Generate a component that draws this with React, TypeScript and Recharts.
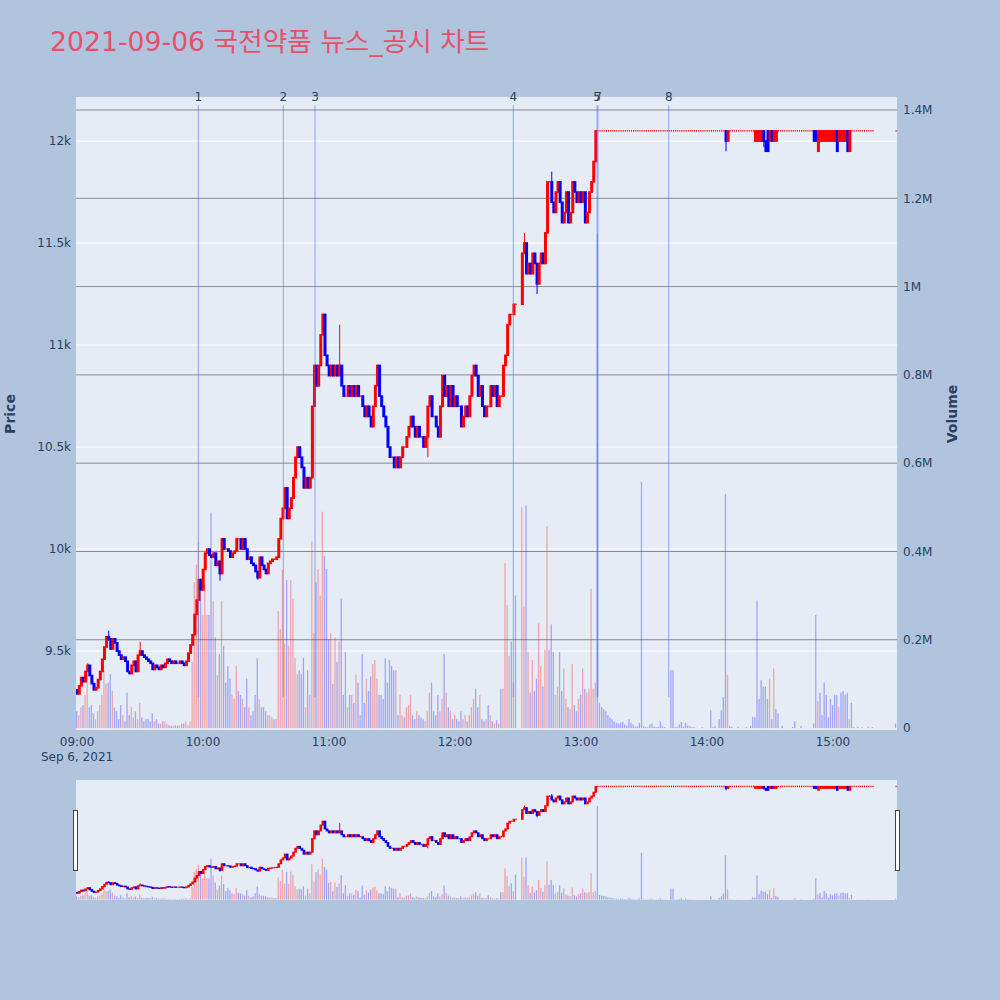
import React from "react";
import { ComposedChart, Bar, XAxis, YAxis, CartesianGrid, ReferenceLine } from "recharts";

const TITLE = "2021-09-06 국전약품 뉴스_공시 차트";
const DATE_LABEL = "Sep 6, 2021";
const HOUR_TICKS = ["09:00", "10:00", "11:00", "12:00", "13:00", "14:00", "15:00"];
const PRICE_TICKS = [9500, 10000, 10500, 11000, 11500, 12000];
const VOLUME_TICKS = [0, 200000, 400000, 600000, 800000, 1000000, 1200000, 1400000];

// minute closes, 09:00 .. 15:30 (null = no trade)
const close0900 = [
  9290, 9330, 9370, 9350, 9400, 9430, 9380, 9340, 9310, 9320,
  9360, 9400, 9460, 9520, 9570, 9560, 9510, 9560, 9540, 9500,
  9480, 9460, 9470, 9450, 9400, 9390, 9430, 9450, 9400, 9480,
  9500, 9480, 9470, 9460, 9450, 9440, 9410, 9430, 9420, 9410,
  9430, 9420, 9440, 9460, 9450, 9440, 9450, 9440, 9440, 9450,
  9440, 9430, 9450, 9490, 9530, 9580, 9680, 9750, 9850, 9800,
];
const close1000 = [
  9900, 9980, 10000, 9970, 9960, 9980, 9920, 9940, 9880, 10050,
  10000, 10000, 9990, 9960, 9980, 9990, 10050, 10050, 10000, 10050,
  10000, 9950, 9960, 9930, 9920, 9890, 9860, 9960, 9920, 9900,
  9880, 9930, 9940, 9950, 9950, 9960, 10050, 10150, 10200, 10300,
  10150, 10200, 10250, 10350, 10450, 10500, 10450, 10400, 10300, 10350,
  10300, 10350, 10700, 10900, 10800, 10900, 11050, 11150, 10950, 10900,
];
const close1100 = [
  10850, 10900, 10850, 10900, 10850, 10900, 10800, 10750, 10750, 10800,
  10750, 10800, 10750, 10800, 10750, 10750, 10700, 10650, 10700, 10650,
  10600, 10700, 10800, 10900, 10750, 10700, 10650, 10600, 10500, 10450,
  10450, 10400, 10450, 10400, 10450, 10500, 10500, 10550, 10600, 10650,
  10600, 10550, 10600, 10550, 10550, 10500, 10550, 10700, 10750, 10650,
  10650, 10600, 10550, 10700, 10850, 10750, 10800, 10700, 10800, 10700,
];
const close1200 = [
  10750, 10700, 10700, 10600, 10650, 10700, 10650, 10750, 10850, 10900,
  10850, 10750, 10800, 10700, 10650, 10700, 10700, 10800, 10750, 10800,
  10700, 10750, 10750, 10900, 10950, 11100, 11150, 11150, 11200, 11200,
  null, null, 11450, 11500, 11350, 11400, 11350, 11450, 11400, 11300,
  11400, 11450, 11400, 11550, 11800, 11800, 11700, 11650, 11750, 11800,
  11700, 11600, 11650, 11750, 11600, 11650, 11800, 11750, 11700, 11750,
];
const close1300 = [
  11700, 11750, 11600, 11650, 11750, 11800, 11900, 12050, 12050, 12050,
  12050, 12050, 12050, 12050, 12050, 12050, 12050, 12050, 12050, 12050,
  12050, 12050, 12050, 12050, 12050, 12050, 12050, 12050, 12050, 12050,
  12050, 12050, 12050, 12050, 12050, 12050, 12050, 12050, 12050, 12050,
  12050, 12050, 12050, 12050, 12050, 12050, 12050, 12050, 12050, 12050,
  12050, 12050, 12050, 12050, 12050, 12050, 12050, 12050, 12050, 12050,
];
const close1400 = [
  12050, 12050, 12050, 12050, 12050, 12050, 12050, 12050, 12050, 12000,
  12050, 12050, 12050, 12050, 12050, 12050, 12050, 12050, 12050, 12050,
  12050, 12050, 12050, 12050, 12050, 12050, 12050, 12000, 11950, 11950,
  12050, 12000, 12050, 12050, 12050, 12050, 12050, 12050, 12050, 12050,
  12050, 12050, 12050, 12050, 12050, 12050, 12050, 12050, 12050, 12050,
  12050, 12000, 12000, 12050, 12050, 12050, 12050, 12050, 12050, 12050,
];
const close1500 = [
  12050, 12050, 11950, 12050, 12050, 12050, 12050, 11950, 12050, 12050,
  12050, 12050, 12050, 12050, 12050, 12050, 12050, 12050, 12050, 12050,
  null, null, null, null, null, null, null, null, null, null,
  12050,
];

// minute volumes in thousands of shares
const vol0900 = [
  38, 29, 47, 52, 75, 122, 47, 52, 33, 20,
  38, 52, 75, 130, 100, 103, 122, 84, 47, 38,
  20, 52, 29, 15, 80, 29, 47, 24, 38, 20,
  57, 24, 15, 20, 20, 15, 33, 15, 20, 10,
  10, 15, 15, 10, 6, 5, 5, 6, 5, 7,
  10, 10, 15, 6, 15, 150, 330, 370, 420, 340,
];
const vol1000 = [
  256, 326, 256, 256, 488, 288, 205, 120, 168, 288,
  186, 103, 140, 112, 75, 66, 140, 84, 75, 66,
  47, 112, 47, 29, 38, 75, 158, 65, 47, 47,
  38, 29, 29, 24, 20, 20, 265, 224, 358, 191,
  335, 186, 335, 293, 159, 122, 131, 122, 159, 47,
  131, 75, 423, 215, 330, 360, 300, 490, 390, 360,
];
const vol1100 = [
  200, 215, 100, 205, 150, 196, 293, 75, 172, 47,
  75, 75, 57, 121, 103, 29, 168, 57, 112, 84,
  117, 145, 154, 112, 75, 75, 66, 158, 103, 154,
  140, 131, 131, 29, 75, 29, 24, 47, 52, 75,
  29, 20, 38, 29, 24, 20, 15, 38, 80, 103,
  38, 29, 75, 38, 66, 168, 80, 47, 38, 20,
];
const vol1200 = [
  29, 20, 15, 38, 20, 29, 15, 29, 47, 66,
  89, 47, 75, 20, 15, 20, 52, 29, 15, 10,
  18, 10, 89, 89, 374, 279, 163, 196, 103, 300,
  null, null, 500, 275, 504, 172, 80, 154, 84, 112,
  237, 140, 94, 177, 457, 177, 235, 172, 75, 94,
  172, 84, 135, 66, 47, 43, 145, 52, 38, 66,
];
const vol1300 = [
  75, 135, 89, 80, 89, 316, 89, 103, 1120, 57,
  47, 43, 38, 29, 24, 20, 15, 12, 10, 12,
  14, 8, 5, 20, 12, 8, 3, 4, 12, 558,
  4, 3, 2, 8, 10, 3, 2, 3, 15, 4,
  2, 0, 0, 131, 131, 2, 3, 8, 14, 3,
  12, 5, 4, 2, 2, 0, 0, 0, 2, 0,
];
const vol1400 = [
  0, 0, 40, 2, 5, 0, 20, 40, 70, 530,
  121, 5, 3, 0, 0, 3, 0, 0, 0, 2,
  0, 5, 25, 24, 289, 66, 108, 94, 94, 66,
  112, 20, 135, 43, 33, 0, 5, 0, 0, 0,
  0, 2, 15, 0, 0, 5, 0, 0, 0, 0,
  0, 10, 256, 61, 80, 29, 103, 75, 24, 66,
];
const vol1500 = [
  52, 75, 75, 47, 80, 84, 75, 80, 20, 57,
  2, 0, 3, 0, 2, 0, 0, 3, 0, 2,
  null, null, null, null, null, null, null, null, null, null,
  10,
];

// [minute index, open] where the open differs from the previous close
const openOverrides: [number, number][] = [
  [0, 9310],
  [323, 12000], [324, 12000], [325, 12000], [326, 12000],
  [329, 12050], [330, 12000], [333, 12000],
  [352, 12050], [353, 11950],
  [354, 12000], [355, 12000], [356, 12000], [357, 12000], [358, 12000], [359, 12000],
  [360, 12000], [361, 12000],
  [363, 12000], [364, 12000], [365, 12000], [366, 12000],
];
// [minute index, high, low] for visible wicks
const wickOverrides: [number, number, number][] = [
  [5, 9440, 9400], [15, 9600, 9550], [30, 9545, 9480], [68, 9940, 9845],
  [86, 9890, 9850], [125, 11100, 10850], [143, 10900, 10800], [167, 10700, 10450],
  [213, 11550, 11450], [219, 11400, 11250], [226, 11850, 11700],
  [309, 12050, 11950], [327, 12050, 11970], [362, 12050, 11950], [367, 12050, 11950],
];

// news / disclosure markers
const newsLabels = ["1", "2", "3", "4", "5", "7", "8"];
const newsTimes = ["09:57:45", "10:38:14", "10:53:20", "12:27:46", "13:07:40", "13:08:05", "13:41:47"];

const NEWS_TOP = 12176;
const NEWS_BOTTOM = 9274;
const PRICE_DOMAIN: [number, number] = [9113, 12216];
const VOL_DOMAIN: [number, number] = [-4500, 1429500];
const X_DOMAIN: [number, number] = [-0.5, 390.5];
const FONT = "'DejaVu Sans', Verdana, sans-serif";
const AXIS_COLOR = "#2a3f5f";

const toMinutes = (t: string) => {
  const [h, m, s] = t.split(":");
  return (Number(h) - 9) * 60 + Number(m) + Number(s || 0) / 60;
};

const closes: (number | null)[] = [...close0900, ...close1000, ...close1100, ...close1200, ...close1300, ...close1400, ...close1500];
const volumes: (number | null)[] = [...vol0900, ...vol1000, ...vol1100, ...vol1200, ...vol1300, ...vol1400, ...vol1500];

const openMap = new Map<number, number>(openOverrides);
const wickMap = new Map<number, [number, number]>(wickOverrides.map(([i, h, l]) => [i, [h, l]]));

const rows: any[] = (() => {
  let prev: number | null = null;
  return closes.map((c, i) => {
    if (c == null) return { m: i, range: null, vol: null };
    const open = openMap.has(i) ? (openMap.get(i) as number) : prev != null ? prev : c;
    const w = wickMap.get(i);
    const high = Math.max(open, c, w ? w[0] : c);
    const low = Math.min(open, c, w ? w[1] : c);
    const volUp = prev != null ? c > prev : c > open;
    prev = c;
    const v = volumes[i];
    return { m: i, open, close: c, high, low, range: [low, high], vol: v == null ? null : v * 1000, volUp };
  });
})();

const news = newsLabels.map((label, i) => ({ label, m: toMinutes(newsTimes[i]) }));
const hourTicks = HOUR_TICKS.map(toMinutes);

const fmtPrice = (v: number) => `${v / 1000}k`;
const fmtVol = (v: number) => (v === 0 ? "0" : `${v / 1000000}M`);

function makeCandle(bodyW: number, pad: number) {
  return function CandleShape(props: any) {
    const { x, y, width, height, payload } = props;
    if (!payload || payload.close == null) return null;
    const { open, close, high, low } = payload;
    const cx = x + width / 2;
    const top = Math.min(y, y + height);
    const bot = Math.max(y, y + height);
    const span = high - low;
    const py = (v: number) => (span > 0 ? top + ((high - v) / span) * (bot - top) : top);
    const color = close >= open ? "#ff0000" : "#0000ff";
    const bTop = py(Math.max(open, close));
    const bBot = py(Math.min(open, close));
    return (
      <g>
        {span > 0 && bot - top > 0.5 && (
          <line x1={cx} x2={cx} y1={top} y2={bot} stroke={color} strokeWidth={1} />
        )}
        {open !== close ? (
          <rect x={cx - bodyW / 2} y={bTop - pad} width={bodyW} height={bBot - bTop + pad * 2} fill={color} />
        ) : (
          <rect x={cx - 0.6} y={bTop - 0.7} width={1.2} height={1.4} fill={color} />
        )}
      </g>
    );
  };
}

const MainCandle = makeCandle(3, 0.8);
const MiniCandle = makeCandle(2.6, 0.5);

function VolumeShape(props: any) {
  const { x, y, width, height, payload } = props;
  if (!payload || payload.vol == null || !height) return null;
  const top = Math.min(y, y + height);
  return (
    <rect
      x={x}
      y={top}
      width={width}
      height={Math.abs(height)}
      fill={payload.volUp ? "rgba(255,0,0,0.3)" : "rgba(0,0,255,0.3)"}
    />
  );
}

function XTick(props: any) {
  const { x, y, payload } = props;
  const v = payload.value;
  const h = 9 + Math.round(v / 60);
  const label = `${String(h).padStart(2, "0")}:00`;
  return (
    <g>
      <text x={x} y={y + 16} textAnchor="middle" fill={AXIS_COLOR} fontSize={12} fontFamily={FONT}>
        {label}
      </text>
      {v === hourTicks[0] && (
        <text x={x} y={y + 31} textAnchor="middle" fill={AXIS_COLOR} fontSize={12} fontFamily={FONT}>
          {DATE_LABEL}
        </text>
      )}
    </g>
  );
}

const tickStyle = { fill: AXIS_COLOR, fontSize: 12, fontFamily: FONT };

export default function App() {
  return (
    <div style={{ position: "absolute", left: 0, top: 0, width: 1000, height: 1000, background: "#B0C4DE", overflow: "hidden" }}>
      <div style={{ position: "absolute", left: 0, top: 0 }}>
        <ComposedChart width={1000} height={780} data={rows} margin={{ top: 97, right: 43, bottom: 20, left: 16 }}>
          <CartesianGrid xAxisId="a" yAxisId="price" vertical={false} stroke="#ffffff" fill="#E5ECF6" horizontalValues={PRICE_TICKS} />
          <CartesianGrid xAxisId="a" yAxisId="vol" vertical={false} stroke="#8a8a8a" horizontalValues={VOLUME_TICKS.slice(1)} />
          <XAxis
            xAxisId="a"
            dataKey="m"
            type="number"
            domain={X_DOMAIN}
            allowDataOverflow
            ticks={hourTicks}
            interval={0}
            tick={XTick}
            tickSize={0}
            tickMargin={0}
            axisLine={false}
            tickLine={false}
            height={30}
          />
          <XAxis xAxisId="b" dataKey="m" type="number" domain={X_DOMAIN} allowDataOverflow hide />
          <YAxis
            yAxisId="price"
            orientation="left"
            type="number"
            domain={PRICE_DOMAIN}
            allowDataOverflow
            ticks={PRICE_TICKS}
            interval={0}
            tickFormatter={fmtPrice}
            width={60}
            axisLine={false}
            tickLine={false}
            tickSize={0}
            tickMargin={5}
            tick={tickStyle}
          />
          <YAxis
            yAxisId="vol"
            orientation="right"
            type="number"
            domain={VOL_DOMAIN}
            allowDataOverflow
            ticks={VOLUME_TICKS}
            interval={0}
            tickFormatter={fmtVol}
            width={60}
            axisLine={false}
            tickLine={false}
            tickSize={0}
            tickMargin={6}
            tick={tickStyle}
          />
          <Bar xAxisId="b" yAxisId="vol" dataKey="vol" barSize={1.3} shape={VolumeShape} isAnimationActive={false} />
          <Bar xAxisId="a" yAxisId="price" dataKey="range" shape={MainCandle} isAnimationActive={false} />
          {news.map((n, i) => (
            <ReferenceLine
              key={`news-${i}`}
              xAxisId="a"
              yAxisId="price"
              segment={[{ x: n.m, y: NEWS_TOP }, { x: n.m, y: NEWS_BOTTOM }]}
              stroke="#5577e6"
              strokeOpacity={0.6}
              strokeWidth={1}
              label={{ value: n.label, position: "top", offset: 4, fill: AXIS_COLOR, fontSize: 12, fontFamily: FONT }}
            />
          ))}
        </ComposedChart>
      </div>

      <div style={{ position: "absolute", left: 76, top: 780, width: 821, height: 120, background: "#E5ECF6" }} />
      <div style={{ position: "absolute", left: 0, top: 780 }}>
        <ComposedChart width={1000} height={120} data={rows} margin={{ top: 0, right: 103, bottom: 0, left: 76 }}>
          <XAxis xAxisId="a" dataKey="m" type="number" domain={X_DOMAIN} allowDataOverflow hide />
          <XAxis xAxisId="b" dataKey="m" type="number" domain={X_DOMAIN} allowDataOverflow hide />
          <YAxis yAxisId="price" type="number" domain={PRICE_DOMAIN} allowDataOverflow hide />
          <YAxis yAxisId="vol" type="number" domain={VOL_DOMAIN} allowDataOverflow hide />
          <Bar xAxisId="b" yAxisId="vol" dataKey="vol" barSize={1.3} shape={VolumeShape} isAnimationActive={false} />
          <Bar xAxisId="a" yAxisId="price" dataKey="range" shape={MiniCandle} isAnimationActive={false} />
        </ComposedChart>
      </div>
      <div style={{ position: "absolute", left: 73, top: 810, width: 3, height: 59, background: "#ffffff", border: "1px solid #444" }} />
      <div style={{ position: "absolute", left: 895, top: 810, width: 3, height: 59, background: "#ffffff", border: "1px solid #444" }} />

      <svg width={1000} height={1000} style={{ position: "absolute", left: 0, top: 0, pointerEvents: "none" }}>
        <text x={50} y={51} fill="#E8506A" fontSize={26.7} fontFamily="'DejaVu Sans', 'Noto Sans CJK KR', sans-serif">
          {TITLE}
        </text>
        <text transform="translate(15,414) rotate(-90)" textAnchor="middle" fill={AXIS_COLOR} fontSize={14} fontWeight="bold" fontFamily={FONT}>
          Price
        </text>
        <text transform="translate(957,414) rotate(-90)" textAnchor="middle" fill={AXIS_COLOR} fontSize={14} fontWeight="bold" fontFamily={FONT}>
          Volume
        </text>
      </svg>
    </div>
  );
}
